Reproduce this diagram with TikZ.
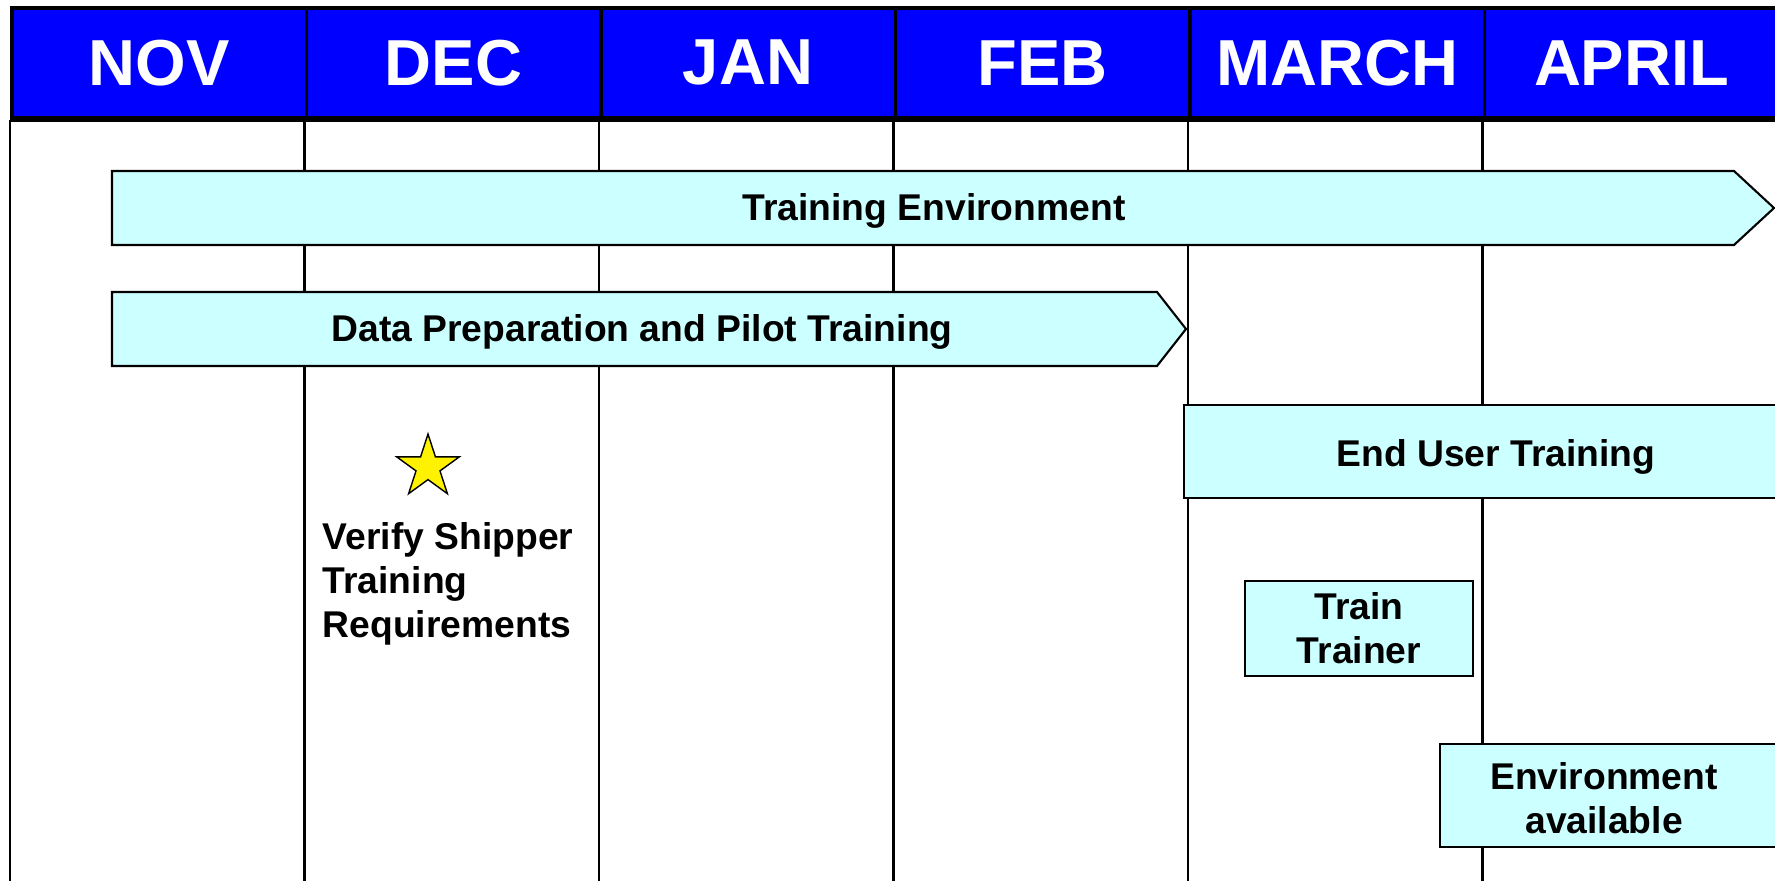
\documentclass[tikz,border=0pt]{standalone}
\usepackage{fontspec}
\setmainfont{Liberation Sans}
\usetikzlibrary{shapes.geometric}

\definecolor{monthblue}{HTML}{0000FF}
\definecolor{barcyan}{HTML}{CCFFFF}

\tikzset{
  month/.style={draw=black, line width=1pt, fill=monthblue, text=white,
    font=\fontsize{18.5pt}{20pt}\selectfont\bfseries,
    minimum width=2.945cm, minimum height=1.1cm, inner sep=0pt},
  bar/.style={draw=black, line width=0.6pt, fill=barcyan},
  bartext/.style={font=\fontsize{10.6pt}{12.5pt}\selectfont\bfseries,
    align=center, inner sep=0pt},
}

\begin{document}
\begin{tikzpicture}
        \clip (0,0) rectangle (17.75,8.8);
        % month header and grid lines
        \foreach \name/\lbl [count=\i from 0] in {nov/NOV,dec/DEC,jan/JAN,feb/FEB,mar/MARCH,apr/APRIL} {
          \node[month, anchor=north west] (\name) at (0.10+2.945*\i, 8.74) {\lbl};
          \draw[line width=0.7pt] (\name.south west) -- ++(0,-7.64);
        }
        \draw[line width=1.3pt] (nov.south west) -- (apr.south east);
        % bars
        \draw[bar] (1.12,7.09) -- (17.34,7.09) -- (17.74,6.72) -- (17.34,6.35) -- (1.12,6.35) -- cycle;
        \node[bartext] (trainenv) at (9.34,6.69) {Training Environment};
        \draw[bar] (1.12,5.88) -- (11.57,5.88) -- (11.86,5.51) -- (11.57,5.14) -- (1.12,5.14) -- cycle;
        \node[bartext] (dataprep) at (6.42,5.48) {Data Preparation and Pilot Training};
        \draw[bar] (11.84,4.75) rectangle (18.0,3.82);
        \node[bartext] (enduser) at (14.96,4.23) {End User Training};
        \node[bar, bartext, minimum width=2.28cm, minimum height=0.95cm] (trainer) at (13.59,2.515) {Train\\Trainer};
        \draw[bar] (14.40,1.36) rectangle (18.0,0.33);
        \node[bartext] (envavail) at (16.04,0.815) {Environment\\available};
        % milestone
        \node[star, star points=5, star point ratio=2.618, minimum size=0.66cm, inner sep=0pt,
          draw=black, line width=0.4pt, fill=yellow] (milestone) at (4.28,4.13) {};
        \node[bartext, align=left, anchor=west] (verify) at (3.22,2.96) {Verify Shipper\\Training\\Requirements};
\end{tikzpicture}
\end{document}
